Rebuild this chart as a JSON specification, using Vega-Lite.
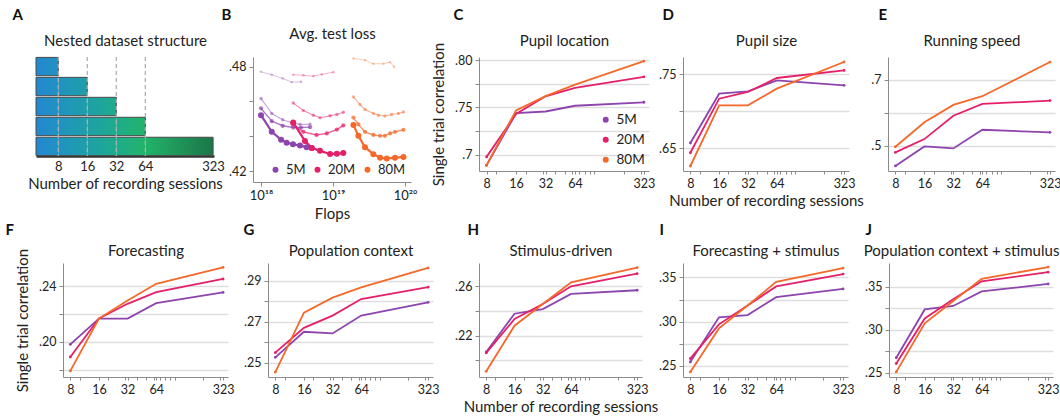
{
"$schema":"https://vega.github.io/schema/vega-lite/v6.json",
"padding":{"left":5,"top":7,"right":0,"bottom":0},
"config":{
  "view":{"stroke":null},
  "font":"Lato",
  "axis":{"labelFontSize":12.5,"titleFontSize":15,"titleFontWeight":"normal","labelColor":"#222","titleColor":"#222","domainColor":"#8a8a8a","tickColor":"#8a8a8a","gridColor":"#dedede","gridWidth":1.4,"labelPadding":3},
  "legend":{"labelFontSize":13.5,"labelColor":"#222"}
},
"datasets":{
  "segs":[
    {"set":"8","seg":0,"from":4.7,"to":8},
    {"set":"16","seg":0,"from":4.7,"to":8},{"set":"16","seg":1,"from":8,"to":16},
    {"set":"32","seg":0,"from":4.7,"to":8},{"set":"32","seg":1,"from":8,"to":16},{"set":"32","seg":2,"from":16,"to":32},
    {"set":"64","seg":0,"from":4.7,"to":8},{"set":"64","seg":1,"from":8,"to":16},{"set":"64","seg":2,"from":16,"to":32},{"set":"64","seg":3,"from":32,"to":64},
    {"set":"323","seg":0,"from":4.7,"to":8},{"set":"323","seg":1,"from":8,"to":16},{"set":"323","seg":2,"from":16,"to":32},{"set":"323","seg":3,"from":32,"to":64},{"set":"323","seg":4,"from":64,"to":323}
  ],
  "sets":[
    {"set":"8","from":4.7,"to":8},{"set":"16","from":4.7,"to":16},{"set":"32","from":4.7,"to":32},{"set":"64","from":4.7,"to":64},{"set":"323","from":4.7,"to":323}
  ],
  "dash":[{"s":8},{"s":16},{"s":32},{"s":64}],
  "corr":[
    {"p":"C","s":8,"5M":0.6885,"20M":0.6975,"80M":0.6886},
    {"p":"C","s":16,"5M":0.7439,"20M":0.7431,"80M":0.7468},
    {"p":"C","s":32,"5M":0.7457,"20M":0.7618,"80M":0.7621},
    {"p":"C","s":64,"5M":0.7518,"20M":0.7707,"80M":0.7743},
    {"p":"C","s":323,"5M":0.7555,"20M":0.7825,"80M":0.7993},
    {"p":"D","s":8,"5M":0.6568,"20M":0.6436,"80M":0.6256},
    {"p":"D","s":16,"5M":0.7238,"20M":0.717,"80M":0.7079},
    {"p":"D","s":32,"5M":0.7269,"20M":0.7261,"80M":0.7079},
    {"p":"D","s":64,"5M":0.7419,"20M":0.7451,"80M":0.7306},
    {"p":"D","s":323,"5M":0.7351,"20M":0.7554,"80M":0.7668},
    {"p":"E","s":8,"5M":0.4394,"20M":0.48,"80M":0.497},
    {"p":"E","s":16,"5M":0.4982,"20M":0.5203,"80M":0.5709},
    {"p":"E","s":32,"5M":0.4921,"20M":0.5909,"80M":0.6233},
    {"p":"E","s":64,"5M":0.5485,"20M":0.6264,"80M":0.6497},
    {"p":"E","s":323,"5M":0.5406,"20M":0.6364,"80M":0.7527},
    {"p":"F","s":8,"5M":0.1981,"20M":0.189,"80M":0.179},
    {"p":"F","s":16,"5M":0.2167,"20M":0.2167,"80M":0.2167},
    {"p":"F","s":32,"5M":0.2167,"20M":0.2273,"80M":0.2297},
    {"p":"F","s":64,"5M":0.2278,"20M":0.2357,"80M":0.2417},
    {"p":"F","s":323,"5M":0.2355,"20M":0.2452,"80M":0.2535},
    {"p":"G","s":8,"5M":0.2526,"20M":0.2549,"80M":0.2454},
    {"p":"G","s":16,"5M":0.2651,"20M":0.267,"80M":0.2744},
    {"p":"G","s":32,"5M":0.2643,"20M":0.273,"80M":0.2818},
    {"p":"G","s":64,"5M":0.273,"20M":0.2811,"80M":0.2868},
    {"p":"G","s":323,"5M":0.2795,"20M":0.2869,"80M":0.2963},
    {"p":"H","s":8,"5M":0.2068,"20M":0.206,"80M":0.1911},
    {"p":"H","s":16,"5M":0.2378,"20M":0.2335,"80M":0.2281},
    {"p":"H","s":32,"5M":0.2416,"20M":0.2456,"80M":0.2456},
    {"p":"H","s":64,"5M":0.2538,"20M":0.26,"80M":0.2632},
    {"p":"H","s":323,"5M":0.2568,"20M":0.2702,"80M":0.2752},
    {"p":"I","s":8,"5M":0.2545,"20M":0.2583,"80M":0.2432},
    {"p":"I","s":16,"5M":0.3049,"20M":0.297,"80M":0.2924},
    {"p":"I","s":32,"5M":0.3075,"20M":0.3182,"80M":0.3182},
    {"p":"I","s":64,"5M":0.3277,"20M":0.3398,"80M":0.345},
    {"p":"I","s":323,"5M":0.337,"20M":0.3538,"80M":0.3606},
    {"p":"J","s":8,"5M":0.2676,"20M":0.2609,"80M":0.2512},
    {"p":"J","s":16,"5M":0.3236,"20M":0.3131,"80M":0.3076},
    {"p":"J","s":32,"5M":0.3276,"20M":0.3354,"80M":0.3333},
    {"p":"J","s":64,"5M":0.3445,"20M":0.3562,"80M":0.359},
    {"p":"J","s":323,"5M":0.3531,"20M":0.3668,"80M":0.3727}
  ],
  "loss":[
    {"m":"5M","k":8,"f":1e18,"l":0.477},{"m":"5M","k":8,"f":1.41e18,"l":0.4753},{"m":"5M","k":8,"f":2e18,"l":0.4732},{"m":"5M","k":8,"f":2.67e18,"l":0.4711},{"m":"5M","k":8,"f":3.6e18,"l":0.4712},
    {"m":"5M","k":16,"f":1e18,"l":0.4617},{"m":"5M","k":16,"f":1.41e18,"l":0.453},{"m":"5M","k":16,"f":2e18,"l":0.4495},{"m":"5M","k":16,"f":2.67e18,"l":0.4477},{"m":"5M","k":16,"f":3.48e18,"l":0.4468},{"m":"5M","k":16,"f":4.8e18,"l":0.4469},
    {"m":"5M","k":32,"f":1e18,"l":0.456},{"m":"5M","k":32,"f":1.41e18,"l":0.4486},{"m":"5M","k":32,"f":2e18,"l":0.446},{"m":"5M","k":32,"f":2.8e18,"l":0.445},{"m":"5M","k":32,"f":3.6e18,"l":0.445},{"m":"5M","k":32,"f":4.8e18,"l":0.4452},
    {"m":"5M","k":64,"f":1e18,"l":0.4521},{"m":"5M","k":64,"f":1.41e18,"l":0.4425},{"m":"5M","k":64,"f":1.9e18,"l":0.438},{"m":"5M","k":64,"f":2.27e18,"l":0.4363},{"m":"5M","k":64,"f":2.78e18,"l":0.4354},{"m":"5M","k":64,"f":3.48e18,"l":0.4346},{"m":"5M","k":64,"f":4.3e18,"l":0.4337},{"m":"5M","k":64,"f":5.06e18,"l":0.4332},
    {"m":"20M","k":8,"f":2.8e18,"l":0.4753},{"m":"20M","k":8,"f":3.87e18,"l":0.475},{"m":"20M","k":8,"f":5.33e18,"l":0.4745},{"m":"20M","k":8,"f":6.97e18,"l":0.4755},{"m":"20M","k":8,"f":1.01e19,"l":0.4768},
    {"m":"20M","k":16,"f":2.8e18,"l":0.4591},{"m":"20M","k":16,"f":3.87e18,"l":0.4547},{"m":"20M","k":16,"f":5.33e18,"l":0.4521},{"m":"20M","k":16,"f":6.6e18,"l":0.4506},{"m":"20M","k":16,"f":9.1e18,"l":0.4517},{"m":"20M","k":16,"f":1.13e19,"l":0.4525},{"m":"20M","k":16,"f":1.39e19,"l":0.4538},
    {"m":"20M","k":32,"f":2.75e18,"l":0.4468},{"m":"20M","k":32,"f":3.87e18,"l":0.4425},{"m":"20M","k":32,"f":5.9e18,"l":0.4407},{"m":"20M","k":32,"f":8.2e18,"l":0.4416},{"m":"20M","k":32,"f":1.13e19,"l":0.4438},{"m":"20M","k":32,"f":1.39e19,"l":0.4462},
    {"m":"20M","k":64,"f":2.8e18,"l":0.4479},{"m":"20M","k":64,"f":4.08e18,"l":0.4372},{"m":"20M","k":64,"f":5.06e18,"l":0.4333},{"m":"20M","k":64,"f":6.6e18,"l":0.4316},{"m":"20M","k":64,"f":9.1e18,"l":0.4298},{"m":"20M","k":64,"f":1.13e19,"l":0.4299},{"m":"20M","k":64,"f":1.39e19,"l":0.4303},
    {"m":"80M","k":8,"f":1.92e19,"l":0.4846},{"m":"80M","k":8,"f":2.78e19,"l":0.4837},{"m":"80M","k":8,"f":3.63e19,"l":0.4816},{"m":"80M","k":8,"f":5.0e19,"l":0.4816},{"m":"80M","k":8,"f":6.19e19,"l":0.4825},{"m":"80M","k":8,"f":7.03e19,"l":0.4798},
    {"m":"80M","k":16,"f":1.92e19,"l":0.4626},{"m":"80M","k":16,"f":2.37e19,"l":0.4582},{"m":"80M","k":16,"f":2.78e19,"l":0.4553},{"m":"80M","k":16,"f":3.63e19,"l":0.453},{"m":"80M","k":16,"f":4.26e19,"l":0.4521},{"m":"80M","k":16,"f":5.25e19,"l":0.4516},{"m":"80M","k":16,"f":6.5e19,"l":0.4525},{"m":"80M","k":16,"f":8.07e19,"l":0.453},{"m":"80M","k":16,"f":9.5e19,"l":0.4539},
    {"m":"80M","k":32,"f":1.92e19,"l":0.4507},{"m":"80M","k":32,"f":2.25e19,"l":0.4468},{"m":"80M","k":32,"f":2.78e19,"l":0.4425},{"m":"80M","k":32,"f":3.63e19,"l":0.4407},{"m":"80M","k":32,"f":4.5e19,"l":0.4402},{"m":"80M","k":32,"f":5.25e19,"l":0.4402},{"m":"80M","k":32,"f":6.19e19,"l":0.4416},{"m":"80M","k":32,"f":7.26e19,"l":0.4425},{"m":"80M","k":32,"f":9.5e19,"l":0.4437},
    {"m":"80M","k":64,"f":1.92e19,"l":0.4465},{"m":"80M","k":64,"f":2.25e19,"l":0.4402},{"m":"80M","k":64,"f":2.78e19,"l":0.4337},{"m":"80M","k":64,"f":3.63e19,"l":0.4297},{"m":"80M","k":64,"f":4.5e19,"l":0.4276},{"m":"80M","k":64,"f":5.57e19,"l":0.4272},{"m":"80M","k":64,"f":7.26e19,"l":0.4276},{"m":"80M","k":64,"f":9.5e19,"l":0.4281}
  ]
},
"resolve":{"scale":{"color":"independent"},"legend":{"color":"independent"}},
"spacing":1,
"vconcat":[
{"bounds":"flush","spacing":0,"resolve":{"scale":{"color":"independent"},"legend":{"color":"independent"}},
 "hconcat":[
  {"width":178,"height":99,
   "layer":[
    {"data":{"name":"segs"},"transform":[{"filter":"datum.seg==0"}],"mark":{"type":"bar","fill":{"gradient":"linear","stops":[{"offset":0,"color":"#2387cf"},{"offset":1,"color":"#2192c2"}]}},
     "encoding":{"x":{"field":"from","type":"quantitative","scale":{"type":"log","base":2,"domain":[4.7,330]},"axis":null},"x2":{"field":"to"},"y":{"field":"set","type":"ordinal","scale":{"domain":["8","16","32","64","323"],"paddingInner":0.08,"paddingOuter":0.02},"axis":null}}},
    {"data":{"name":"segs"},"transform":[{"filter":"datum.seg==1"}],"mark":{"type":"bar","fill":{"gradient":"linear","stops":[{"offset":0,"color":"#2192c2"},{"offset":1,"color":"#1e9fa8"}]}},
     "encoding":{"x":{"field":"from","type":"quantitative","scale":{"type":"log","base":2,"domain":[4.7,330]},"axis":null},"x2":{"field":"to"},"y":{"field":"set","type":"ordinal","scale":{"domain":["8","16","32","64","323"],"paddingInner":0.08,"paddingOuter":0.02},"axis":null}}},
    {"data":{"name":"segs"},"transform":[{"filter":"datum.seg==2"}],"mark":{"type":"bar","fill":{"gradient":"linear","stops":[{"offset":0,"color":"#1e9fa8"},{"offset":1,"color":"#1eac8b"}]}},
     "encoding":{"x":{"field":"from","type":"quantitative","scale":{"type":"log","base":2,"domain":[4.7,330]},"axis":null},"x2":{"field":"to"},"y":{"field":"set","type":"ordinal","scale":{"domain":["8","16","32","64","323"],"paddingInner":0.08,"paddingOuter":0.02},"axis":null}}},
    {"data":{"name":"segs"},"transform":[{"filter":"datum.seg==3"}],"mark":{"type":"bar","fill":{"gradient":"linear","stops":[{"offset":0,"color":"#1eac8b"},{"offset":1,"color":"#22b46a"}]}},
     "encoding":{"x":{"field":"from","type":"quantitative","scale":{"type":"log","base":2,"domain":[4.7,330]},"axis":null},"x2":{"field":"to"},"y":{"field":"set","type":"ordinal","scale":{"domain":["8","16","32","64","323"],"paddingInner":0.08,"paddingOuter":0.02},"axis":null}}},
    {"data":{"name":"segs"},"transform":[{"filter":"datum.seg==4"}],"mark":{"type":"bar","fill":{"gradient":"linear","stops":[{"offset":0,"color":"#22b46a"},{"offset":1,"color":"#1c7548"}]}},
     "encoding":{"x":{"field":"from","type":"quantitative","scale":{"type":"log","base":2,"domain":[4.7,330]},"axis":null},"x2":{"field":"to"},"y":{"field":"set","type":"ordinal","scale":{"domain":["8","16","32","64","323"],"paddingInner":0.08,"paddingOuter":0.02},"axis":null}}},
    {"data":{"name":"sets"},"mark":{"type":"bar","fillOpacity":0,"stroke":"#4a4a4a","strokeWidth":1},
     "encoding":{"x":{"field":"from","type":"quantitative","scale":{"type":"log","base":2,"domain":[4.7,330]},"axis":{"values":[8,16,32,64,323],"title":"Number of recording sessions","ticks":false,"grid":false,"domainWidth":2.5,"domainColor":"#333","labelFlush":false,"labelOverlap":false,"labelPadding":4,"titlePadding":3,"labelFontSize":13}},"x2":{"field":"to"},"y":{"field":"set","type":"ordinal","scale":{"domain":["8","16","32","64","323"],"paddingInner":0.08,"paddingOuter":0.02},"axis":null}}},
    {"data":{"name":"dash"},"mark":{"type":"rule","strokeDash":[4,3],"color":"#b0b0b0","strokeWidth":1.3},
     "encoding":{"x":{"field":"s","type":"quantitative","scale":{"type":"log","base":2,"domain":[4.7,330]},"axis":{"orient":"top","title":"Nested dataset structure","labels":false,"ticks":false,"domain":false,"grid":false,"titlePadding":9}}}},
    {"data":{"name":"sets"},"mark":{"type":"rule","opacity":0},
     "encoding":{"y":{"field":"set","type":"ordinal","scale":{"domain":["8","16","32","64","323"],"paddingInner":0.08,"paddingOuter":0.02},"axis":{"orient":"right","title":"A","titleX":-202,"titleY":-43,"titleAngle":0,"titleAlign":"left","titleBaseline":"middle","titleFontSize":15,"titleFontWeight":"bold","titleColor":"#111","labels":false,"ticks":false,"domain":false,"grid":false}}}}
   ],
   "resolve":{"axis":{"x":"independent","y":"independent"}}
  },
  {"width":39,"height":1,"data":{"values":[]},"mark":{"type":"point","opacity":0}},
  {"width":158,"height":125,
   "data":{"name":"loss"},
   "layer":[
    {"mark":{"type":"line"},
     "encoding":{
      "x":{"field":"f","type":"quantitative","scale":{"type":"log","domain":[7.74e17,1.21e20]},"axis":{"values":[1e18,1e19,1e20],"labelExpr":"datum.value < 3e18 ? '10¹⁸' : datum.value < 3e19 ? '10¹⁹' : '10²⁰'","title":"Flops","grid":false,"tickSize":4,"labelFlush":false,"labelOverlap":false,"labelFontSize":13}},
      "y":{"field":"l","type":"quantitative","scale":{"domain":[0.4137,0.4855],"nice":false,"zero":false},"axis":{"values":[0.42,0.44,0.46,0.48],"labelExpr":"abs(datum.value-0.48)<1e-6 ? '.48' : abs(datum.value-0.42)<1e-6 ? '.42' : ''","title":null,"grid":false,"tickSize":4,"labelOverlap":false}},
      "stroke":{"field":"m","type":"nominal","scale":{"domain":["5M","20M","80M"],"range":["#8e44ad","#e5206a","#f4692a"]},"legend":null},
      "opacity":{"field":"k","type":"ordinal","scale":{"type":"ordinal","domain":[8,16,32,64],"range":[0.35,0.5,0.72,1]},"legend":null},
      "strokeWidth":{"field":"k","type":"ordinal","scale":{"type":"ordinal","domain":[8,16,32,64],"range":[1,1.1,1.4,2.2]},"legend":null}
     }},
    {"mark":{"type":"point","filled":true},
     "encoding":{
      "x":{"field":"f","type":"quantitative","scale":{"type":"log","domain":[7.74e17,1.21e20]},"axis":null},
      "y":{"field":"l","type":"quantitative","scale":{"domain":[0.4137,0.4855],"nice":false,"zero":false},"axis":null},
      "color":{"field":"m","type":"nominal","scale":{"domain":["5M","20M","80M"],"range":["#8e44ad","#e5206a","#f4692a"]},"legend":{"orient":"bottom-right","direction":"horizontal","columns":3,"title":null,"offset":5,"symbolSize":35,"symbolType":"circle","labelFontSize":13,"columnPadding":5,"labelOffset":4,"symbolOpacity":1}},
      "opacity":{"field":"k","type":"ordinal","scale":{"type":"ordinal","domain":[8,16,32,64],"range":[0.35,0.5,0.72,1]},"legend":null},
      "size":{"field":"k","type":"ordinal","scale":{"type":"ordinal","domain":[8,16,32,64],"range":[7,12,18,36]},"legend":null}
     }},
    {"mark":{"type":"rule","opacity":0},
     "encoding":{"x":{"field":"f","type":"quantitative","scale":{"type":"log","domain":[7.74e17,1.21e20]},"axis":{"orient":"top","title":"Avg. test loss","labels":false,"ticks":false,"domain":false,"grid":false,"titlePadding":16}}}},
    {"mark":{"type":"rule","opacity":0},
     "encoding":{"y":{"field":"l","type":"quantitative","scale":{"domain":[0.4137,0.4855],"nice":false,"zero":false},"axis":{"orient":"right","title":"B","titleX":-190,"titleY":-43,"titleAngle":0,"titleAlign":"left","titleBaseline":"middle","titleFontSize":15,"titleFontWeight":"bold","titleColor":"#111","labels":false,"ticks":false,"domain":false,"grid":false}}}}
   ],
   "resolve":{"axis":{"x":"independent","y":"independent"}}
  },
  {"width":68,"height":1,"data":{"values":[]},"mark":{"type":"point","opacity":0}},
  {"width":170,"height":114,
   "data":{"name":"corr"},
   "transform":[{"filter":"datum.p=='C'"},{"fold":["5M","20M","80M"],"as":["m","r"]}],
   "layer":[
    {"mark":{"type":"line","strokeWidth":1.8},
     "encoding":{
      "x":{"field":"s","type":"quantitative","scale":{"type":"log","base":2,"domain":[6.7,364]},"axis":{"values":[8,10,16,20,30,32,40,50,60,64,70,80,90,100,200,300,323],"labelExpr":"indexof([8,16,32,64,323], datum.value) >= 0 ? datum.label : ''","title":null,"grid":false,"labelFlush":false,"labelOverlap":false,"tickSize":3}},
      "y":{"field":"r","type":"quantitative","scale":{"domain":[0.6825,0.8036],"nice":false,"zero":false},"axis":{"values":[0.7,0.725,0.75,0.775,0.8],"labelExpr":"abs(datum.value-0.8)<1e-6 ? '.80' : abs(datum.value-0.75)<1e-6 ? '.75' : abs(datum.value-0.7)<1e-6 ? '.7' : ''","title":"Single trial correlation","titlePadding":8,"tickSize":4,"labelOverlap":false}},
      "stroke":{"field":"m","type":"nominal","scale":{"domain":["5M","20M","80M"],"range":["#8e44ad","#e5206a","#f4692a"]},"legend":null}
     }},
    {"transform":[{"filter":"datum.s==8 || datum.s==323"}],"mark":{"type":"point","filled":true,"size":8,"opacity":1},
     "encoding":{
      "x":{"field":"s","type":"quantitative","scale":{"type":"log","base":2,"domain":[6.7,364]},"axis":null},
      "y":{"field":"r","type":"quantitative","scale":{"domain":[0.6825,0.8036],"nice":false,"zero":false},"axis":null},
      "color":{"field":"m","type":"nominal","scale":{"domain":["5M","20M","80M"],"range":["#8e44ad","#e5206a","#f4692a"]},"legend":{"orient":"bottom-right","title":null,"offset":4,"symbolSize":35,"symbolType":"circle","labelFontSize":13.5,"rowPadding":5,"symbolOpacity":1}}
     }},
    {"mark":{"type":"rule","opacity":0},
     "encoding":{"x":{"field":"s","type":"quantitative","scale":{"type":"log","base":2,"domain":[6.7,364]},"axis":{"orient":"top","title":"Pupil location","labels":false,"ticks":false,"domain":false,"grid":false,"titlePadding":9}}}},
    {"mark":{"type":"rule","opacity":0},
     "encoding":{"y":{"field":"r","type":"quantitative","scale":{"domain":[0.6825,0.8036],"nice":false,"zero":false},"axis":{"orient":"right","title":"C","titleX":-196,"titleY":-43,"titleAngle":0,"titleAlign":"left","titleBaseline":"middle","titleFontSize":15,"titleFontWeight":"bold","titleColor":"#111","labels":false,"ticks":false,"domain":false,"grid":false}}}}
   ],
   "resolve":{"axis":{"x":"independent","y":"independent"}}
  },
  {"width":34,"height":1,"data":{"values":[]},"mark":{"type":"point","opacity":0}},
  {"width":166,"height":114,
   "data":{"name":"corr"},
   "transform":[{"filter":"datum.p=='D'"},{"fold":["5M","20M","80M"],"as":["m","r"]}],
   "layer":[
    {"mark":{"type":"line","strokeWidth":1.8},
     "encoding":{
      "x":{"field":"s","type":"quantitative","scale":{"type":"log","base":2,"domain":[6.7,364]},"axis":{"values":[8,10,16,20,30,32,40,50,60,64,70,80,90,100,200,300,323],"labelExpr":"indexof([8,16,32,64,323], datum.value) >= 0 ? datum.label : ''","title":"Number of recording sessions","grid":false,"labelFlush":false,"labelOverlap":false,"tickSize":3}},
      "y":{"field":"r","type":"quantitative","scale":{"domain":[0.6188,0.7736],"nice":false,"zero":false},"axis":{"values":[0.65,0.7,0.75],"labelExpr":"abs(datum.value-0.75)<1e-6 ? '.75' : abs(datum.value-0.65)<1e-6 ? '.65' : ''","title":null,"tickSize":4,"labelOverlap":false}},
      "stroke":{"field":"m","type":"nominal","scale":{"domain":["5M","20M","80M"],"range":["#8e44ad","#e5206a","#f4692a"]},"legend":null}
     }},
    {"transform":[{"filter":"datum.s==8 || datum.s==323"}],"mark":{"type":"point","filled":true,"size":8,"opacity":1},
     "encoding":{
      "x":{"field":"s","type":"quantitative","scale":{"type":"log","base":2,"domain":[6.7,364]},"axis":null},
      "y":{"field":"r","type":"quantitative","scale":{"domain":[0.6188,0.7736],"nice":false,"zero":false},"axis":null},
      "color":{"field":"m","type":"nominal","scale":{"domain":["5M","20M","80M"],"range":["#8e44ad","#e5206a","#f4692a"]},"legend":null}
     }},
    {"mark":{"type":"rule","opacity":0},
     "encoding":{"x":{"field":"s","type":"quantitative","scale":{"type":"log","base":2,"domain":[6.7,364]},"axis":{"orient":"top","title":"Pupil size","labels":false,"ticks":false,"domain":false,"grid":false,"titlePadding":9}}}},
    {"mark":{"type":"rule","opacity":0},
     "encoding":{"y":{"field":"r","type":"quantitative","scale":{"domain":[0.6188,0.7736],"nice":false,"zero":false},"axis":{"orient":"right","title":"D","titleX":-187,"titleY":-43,"titleAngle":0,"titleAlign":"left","titleBaseline":"middle","titleFontSize":15,"titleFontWeight":"bold","titleColor":"#111","labels":false,"ticks":false,"domain":false,"grid":false}}}}
   ],
   "resolve":{"axis":{"x":"independent","y":"independent"}}
  },
  {"width":39,"height":1,"data":{"values":[]},"mark":{"type":"point","opacity":0}},
  {"width":167,"height":114,
   "data":{"name":"corr"},
   "transform":[{"filter":"datum.p=='E'"},{"fold":["5M","20M","80M"],"as":["m","r"]}],
   "layer":[
    {"mark":{"type":"line","strokeWidth":1.8},
     "encoding":{
      "x":{"field":"s","type":"quantitative","scale":{"type":"log","base":2,"domain":[6.7,364]},"axis":{"values":[8,10,16,20,30,32,40,50,60,64,70,80,90,100,200,300,323],"labelExpr":"indexof([8,16,32,64,323], datum.value) >= 0 ? datum.label : ''","title":null,"grid":false,"labelFlush":false,"labelOverlap":false,"tickSize":3}},
      "y":{"field":"r","type":"quantitative","scale":{"domain":[0.424,0.768],"nice":false,"zero":false},"axis":{"values":[0.5,0.6,0.7],"labelExpr":"abs(datum.value-0.7)<1e-6 ? '.7' : abs(datum.value-0.5)<1e-6 ? '.5' : ''","title":null,"tickSize":4,"labelOverlap":false}},
      "stroke":{"field":"m","type":"nominal","scale":{"domain":["5M","20M","80M"],"range":["#8e44ad","#e5206a","#f4692a"]},"legend":null}
     }},
    {"transform":[{"filter":"datum.s==8 || datum.s==323"}],"mark":{"type":"point","filled":true,"size":8,"opacity":1},
     "encoding":{
      "x":{"field":"s","type":"quantitative","scale":{"type":"log","base":2,"domain":[6.7,364]},"axis":null},
      "y":{"field":"r","type":"quantitative","scale":{"domain":[0.424,0.768],"nice":false,"zero":false},"axis":null},
      "color":{"field":"m","type":"nominal","scale":{"domain":["5M","20M","80M"],"range":["#8e44ad","#e5206a","#f4692a"]},"legend":null}
     }},
    {"mark":{"type":"rule","opacity":0},
     "encoding":{"x":{"field":"s","type":"quantitative","scale":{"type":"log","base":2,"domain":[6.7,364]},"axis":{"orient":"top","title":"Running speed","labels":false,"ticks":false,"domain":false,"grid":false,"titlePadding":9}}}},
    {"mark":{"type":"rule","opacity":0},
     "encoding":{"y":{"field":"r","type":"quantitative","scale":{"domain":[0.424,0.768],"nice":false,"zero":false},"axis":{"orient":"right","title":"E","titleX":-177,"titleY":-43,"titleAngle":0,"titleAlign":"left","titleBaseline":"middle","titleFontSize":15,"titleFontWeight":"bold","titleColor":"#111","labels":false,"ticks":false,"domain":false,"grid":false}}}}
   ],
   "resolve":{"axis":{"x":"independent","y":"independent"}}
  }
 ]},
{"bounds":"flush","spacing":0,"resolve":{"scale":{"color":"independent"},"legend":{"color":"independent"}},
 "hconcat":[
  {"width":27,"height":1,"data":{"values":[]},"mark":{"type":"point","opacity":0}},
  {"width":165,"height":114,
   "data":{"name":"corr"},
   "transform":[{"filter":"datum.p=='F'"},{"fold":["5M","20M","80M"],"as":["m","r"]}],
   "layer":[
    {"mark":{"type":"line","strokeWidth":1.8},
     "encoding":{
      "x":{"field":"s","type":"quantitative","scale":{"type":"log","base":2,"domain":[6.7,364]},"axis":{"values":[8,10,16,20,30,32,40,50,60,64,70,80,90,100,200,300,323],"labelExpr":"indexof([8,16,32,64,323], datum.value) >= 0 ? datum.label : ''","title":null,"grid":false,"labelFlush":false,"labelOverlap":false,"tickSize":3}},
      "y":{"field":"r","type":"quantitative","scale":{"domain":[0.1746,0.2567],"nice":false,"zero":false},"axis":{"values":[0.18,0.2,0.22,0.24],"labelExpr":"abs(datum.value-0.24)<1e-6 ? '.24' : abs(datum.value-0.2)<1e-6 ? '.20' : ''","title":"Single trial correlation","titlePadding":8,"tickSize":4,"labelOverlap":false}},
      "stroke":{"field":"m","type":"nominal","scale":{"domain":["5M","20M","80M"],"range":["#8e44ad","#e5206a","#f4692a"]},"legend":null}
     }},
    {"transform":[{"filter":"datum.s==8 || datum.s==323"}],"mark":{"type":"point","filled":true,"size":8,"opacity":1},
     "encoding":{
      "x":{"field":"s","type":"quantitative","scale":{"type":"log","base":2,"domain":[6.7,364]},"axis":null},
      "y":{"field":"r","type":"quantitative","scale":{"domain":[0.1746,0.2567],"nice":false,"zero":false},"axis":null},
      "color":{"field":"m","type":"nominal","scale":{"domain":["5M","20M","80M"],"range":["#8e44ad","#e5206a","#f4692a"]},"legend":null}
     }},
    {"mark":{"type":"rule","opacity":0},
     "encoding":{"x":{"field":"s","type":"quantitative","scale":{"type":"log","base":2,"domain":[6.7,364]},"axis":{"orient":"top","title":"Forecasting","labels":false,"ticks":false,"domain":false,"grid":false,"titlePadding":5}}}},
    {"mark":{"type":"rule","opacity":0},
     "encoding":{"y":{"field":"r","type":"quantitative","scale":{"domain":[0.1746,0.2567],"nice":false,"zero":false},"axis":{"orient":"right","title":"F","titleX":-223,"titleY":-34,"titleAngle":0,"titleAlign":"left","titleBaseline":"middle","titleFontSize":15,"titleFontWeight":"bold","titleColor":"#111","labels":false,"ticks":false,"domain":false,"grid":false}}}}
   ],
   "resolve":{"axis":{"x":"independent","y":"independent"}}
  },
  {"width":40,"height":1,"data":{"values":[]},"mark":{"type":"point","opacity":0}},
  {"width":165,"height":114,
   "data":{"name":"corr"},
   "transform":[{"filter":"datum.p=='G'"},{"fold":["5M","20M","80M"],"as":["m","r"]}],
   "layer":[
    {"mark":{"type":"line","strokeWidth":1.8},
     "encoding":{
      "x":{"field":"s","type":"quantitative","scale":{"type":"log","base":2,"domain":[6.7,364]},"axis":{"values":[8,10,16,20,30,32,40,50,60,64,70,80,90,100,200,300,323],"labelExpr":"indexof([8,16,32,64,323], datum.value) >= 0 ? datum.label : ''","title":null,"grid":false,"labelFlush":false,"labelOverlap":false,"tickSize":3}},
      "y":{"field":"r","type":"quantitative","scale":{"domain":[0.243,0.2987],"nice":false,"zero":false},"axis":{"values":[0.25,0.26,0.27,0.28,0.29],"labelExpr":"abs(datum.value-0.29)<1e-6 ? '.29' : abs(datum.value-0.27)<1e-6 ? '.27' : abs(datum.value-0.25)<1e-6 ? '.25' : ''","title":null,"tickSize":4,"labelOverlap":false}},
      "stroke":{"field":"m","type":"nominal","scale":{"domain":["5M","20M","80M"],"range":["#8e44ad","#e5206a","#f4692a"]},"legend":null}
     }},
    {"transform":[{"filter":"datum.s==8 || datum.s==323"}],"mark":{"type":"point","filled":true,"size":8,"opacity":1},
     "encoding":{
      "x":{"field":"s","type":"quantitative","scale":{"type":"log","base":2,"domain":[6.7,364]},"axis":null},
      "y":{"field":"r","type":"quantitative","scale":{"domain":[0.243,0.2987],"nice":false,"zero":false},"axis":null},
      "color":{"field":"m","type":"nominal","scale":{"domain":["5M","20M","80M"],"range":["#8e44ad","#e5206a","#f4692a"]},"legend":null}
     }},
    {"mark":{"type":"rule","opacity":0},
     "encoding":{"x":{"field":"s","type":"quantitative","scale":{"type":"log","base":2,"domain":[6.7,364]},"axis":{"orient":"top","title":"Population context","labels":false,"ticks":false,"domain":false,"grid":false,"titlePadding":5}}}},
    {"mark":{"type":"rule","opacity":0},
     "encoding":{"y":{"field":"r","type":"quantitative","scale":{"domain":[0.243,0.2987],"nice":false,"zero":false},"axis":{"orient":"right","title":"G","titleX":-190,"titleY":-34,"titleAngle":0,"titleAlign":"left","titleBaseline":"middle","titleFontSize":15,"titleFontWeight":"bold","titleColor":"#111","labels":false,"ticks":false,"domain":false,"grid":false}}}}
   ],
   "resolve":{"axis":{"x":"independent","y":"independent"}}
  },
  {"width":46,"height":1,"data":{"values":[]},"mark":{"type":"point","opacity":0}},
  {"width":163,"height":114,
   "data":{"name":"corr"},
   "transform":[{"filter":"datum.p=='H'"},{"fold":["5M","20M","80M"],"as":["m","r"]}],
   "layer":[
    {"mark":{"type":"line","strokeWidth":1.8},
     "encoding":{
      "x":{"field":"s","type":"quantitative","scale":{"type":"log","base":2,"domain":[6.7,364]},"axis":{"values":[8,10,16,20,30,32,40,50,60,64,70,80,90,100,200,300,323],"labelExpr":"indexof([8,16,32,64,323], datum.value) >= 0 ? datum.label : ''","title":"Number of recording sessions","grid":false,"labelFlush":false,"labelOverlap":false,"tickSize":3}},
      "y":{"field":"r","type":"quantitative","scale":{"domain":[0.1865,0.2789],"nice":false,"zero":false},"axis":{"values":[0.2,0.22,0.24,0.26],"labelExpr":"abs(datum.value-0.26)<1e-6 ? '.26' : abs(datum.value-0.22)<1e-6 ? '.22' : ''","title":null,"tickSize":4,"labelOverlap":false}},
      "stroke":{"field":"m","type":"nominal","scale":{"domain":["5M","20M","80M"],"range":["#8e44ad","#e5206a","#f4692a"]},"legend":null}
     }},
    {"transform":[{"filter":"datum.s==8 || datum.s==323"}],"mark":{"type":"point","filled":true,"size":8,"opacity":1},
     "encoding":{
      "x":{"field":"s","type":"quantitative","scale":{"type":"log","base":2,"domain":[6.7,364]},"axis":null},
      "y":{"field":"r","type":"quantitative","scale":{"domain":[0.1865,0.2789],"nice":false,"zero":false},"axis":null},
      "color":{"field":"m","type":"nominal","scale":{"domain":["5M","20M","80M"],"range":["#8e44ad","#e5206a","#f4692a"]},"legend":null}
     }},
    {"mark":{"type":"rule","opacity":0},
     "encoding":{"x":{"field":"s","type":"quantitative","scale":{"type":"log","base":2,"domain":[6.7,364]},"axis":{"orient":"top","title":"Stimulus-driven","labels":false,"ticks":false,"domain":false,"grid":false,"titlePadding":5}}}},
    {"mark":{"type":"rule","opacity":0},
     "encoding":{"y":{"field":"r","type":"quantitative","scale":{"domain":[0.1865,0.2789],"nice":false,"zero":false},"axis":{"orient":"right","title":"H","titleX":-175,"titleY":-34,"titleAngle":0,"titleAlign":"left","titleBaseline":"middle","titleFontSize":15,"titleFontWeight":"bold","titleColor":"#111","labels":false,"ticks":false,"domain":false,"grid":false}}}}
   ],
   "resolve":{"axis":{"x":"independent","y":"independent"}}
  },
  {"width":41,"height":1,"data":{"values":[]},"mark":{"type":"point","opacity":0}},
  {"width":165,"height":114,
   "data":{"name":"corr"},
   "transform":[{"filter":"datum.p=='I'"},{"fold":["5M","20M","80M"],"as":["m","r"]}],
   "layer":[
    {"mark":{"type":"line","strokeWidth":1.8},
     "encoding":{
      "x":{"field":"s","type":"quantitative","scale":{"type":"log","base":2,"domain":[6.7,364]},"axis":{"values":[8,10,16,20,30,32,40,50,60,64,70,80,90,100,200,300,323],"labelExpr":"indexof([8,16,32,64,323], datum.value) >= 0 ? datum.label : ''","title":null,"grid":false,"labelFlush":false,"labelOverlap":false,"tickSize":3}},
      "y":{"field":"r","type":"quantitative","scale":{"domain":[0.2375,0.3663],"nice":false,"zero":false},"axis":{"values":[0.25,0.275,0.3,0.325,0.35],"labelExpr":"abs(datum.value-0.35)<1e-6 ? '.35' : abs(datum.value-0.3)<1e-6 ? '.30' : abs(datum.value-0.25)<1e-6 ? '.25' : ''","title":null,"tickSize":4,"labelOverlap":false}},
      "stroke":{"field":"m","type":"nominal","scale":{"domain":["5M","20M","80M"],"range":["#8e44ad","#e5206a","#f4692a"]},"legend":null}
     }},
    {"transform":[{"filter":"datum.s==8 || datum.s==323"}],"mark":{"type":"point","filled":true,"size":8,"opacity":1},
     "encoding":{
      "x":{"field":"s","type":"quantitative","scale":{"type":"log","base":2,"domain":[6.7,364]},"axis":null},
      "y":{"field":"r","type":"quantitative","scale":{"domain":[0.2375,0.3663],"nice":false,"zero":false},"axis":null},
      "color":{"field":"m","type":"nominal","scale":{"domain":["5M","20M","80M"],"range":["#8e44ad","#e5206a","#f4692a"]},"legend":null}
     }},
    {"mark":{"type":"rule","opacity":0},
     "encoding":{"x":{"field":"s","type":"quantitative","scale":{"type":"log","base":2,"domain":[6.7,364]},"axis":{"orient":"top","title":"Forecasting + stimulus","labels":false,"ticks":false,"domain":false,"grid":false,"titlePadding":5}}}},
    {"mark":{"type":"rule","opacity":0},
     "encoding":{"y":{"field":"r","type":"quantitative","scale":{"domain":[0.2375,0.3663],"nice":false,"zero":false},"axis":{"orient":"right","title":"I","titleX":-189,"titleY":-34,"titleAngle":0,"titleAlign":"left","titleBaseline":"middle","titleFontSize":15,"titleFontWeight":"bold","titleColor":"#111","labels":false,"ticks":false,"domain":false,"grid":false}}}}
   ],
   "resolve":{"axis":{"x":"independent","y":"independent"}}
  },
  {"width":41,"height":1,"data":{"values":[]},"mark":{"type":"point","opacity":0}},
  {"width":164,"height":114,
   "data":{"name":"corr"},
   "transform":[{"filter":"datum.p=='J'"},{"fold":["5M","20M","80M"],"as":["m","r"]}],
   "layer":[
    {"mark":{"type":"line","strokeWidth":1.8},
     "encoding":{
      "x":{"field":"s","type":"quantitative","scale":{"type":"log","base":2,"domain":[6.7,364]},"axis":{"values":[8,10,16,20,30,32,40,50,60,64,70,80,90,100,200,300,323],"labelExpr":"indexof([8,16,32,64,323], datum.value) >= 0 ? datum.label : ''","title":null,"grid":false,"labelFlush":false,"labelOverlap":false,"tickSize":3}},
      "y":{"field":"r","type":"quantitative","scale":{"domain":[0.2453,0.3774],"nice":false,"zero":false},"axis":{"values":[0.25,0.275,0.3,0.325,0.35],"labelExpr":"abs(datum.value-0.35)<1e-6 ? '.35' : abs(datum.value-0.3)<1e-6 ? '.30' : abs(datum.value-0.25)<1e-6 ? '.25' : ''","title":null,"tickSize":4,"labelOverlap":false}},
      "stroke":{"field":"m","type":"nominal","scale":{"domain":["5M","20M","80M"],"range":["#8e44ad","#e5206a","#f4692a"]},"legend":null}
     }},
    {"transform":[{"filter":"datum.s==8 || datum.s==323"}],"mark":{"type":"point","filled":true,"size":8,"opacity":1},
     "encoding":{
      "x":{"field":"s","type":"quantitative","scale":{"type":"log","base":2,"domain":[6.7,364]},"axis":null},
      "y":{"field":"r","type":"quantitative","scale":{"domain":[0.2453,0.3774],"nice":false,"zero":false},"axis":null},
      "color":{"field":"m","type":"nominal","scale":{"domain":["5M","20M","80M"],"range":["#8e44ad","#e5206a","#f4692a"]},"legend":null}
     }},
    {"mark":{"type":"rule","opacity":0},
     "encoding":{"x":{"field":"s","type":"quantitative","scale":{"type":"log","base":2,"domain":[6.7,364]},"axis":{"orient":"top","title":"Population context + stimulus","titleX":72,"labels":false,"ticks":false,"domain":false,"grid":false,"titlePadding":5}}}},
    {"mark":{"type":"rule","opacity":0},
     "encoding":{"y":{"field":"r","type":"quantitative","scale":{"domain":[0.2453,0.3774],"nice":false,"zero":false},"axis":{"orient":"right","title":"J","titleX":-188,"titleY":-34,"titleAngle":0,"titleAlign":"left","titleBaseline":"middle","titleFontSize":15,"titleFontWeight":"bold","titleColor":"#111","labels":false,"ticks":false,"domain":false,"grid":false}}}}
   ],
   "resolve":{"axis":{"x":"independent","y":"independent"}}
  }
 ]}
]
}
